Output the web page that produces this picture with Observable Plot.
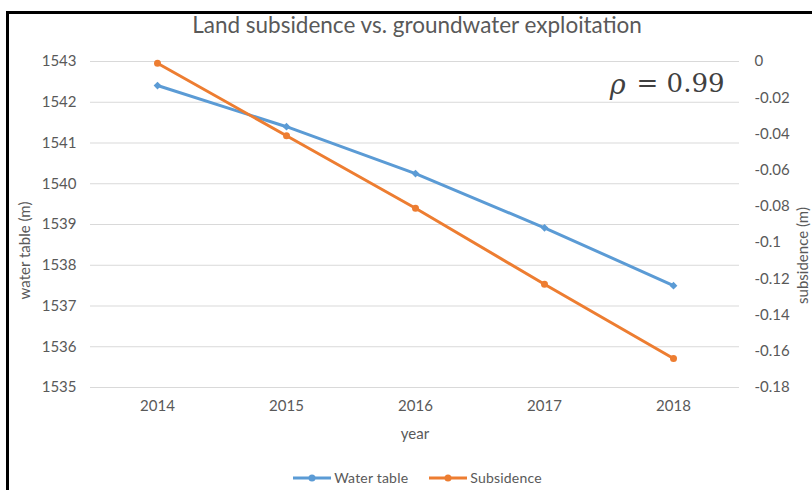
<!DOCTYPE html>
<html>
<head>
<meta charset="utf-8">
<script src="https://cdn.jsdelivr.net/npm/d3@7"></script>
<script src="https://cdn.jsdelivr.net/npm/@observablehq/plot@0.6"></script>
<style>
  html, body { margin: 0; padding: 0; background: #fff; }
  #wrap { position: relative; width: 812px; height: 490px; overflow: hidden; font-family: Lato, "Open Sans", sans-serif; }
  #border { position: absolute; left: 6px; top: 11px; right: -10px; bottom: -10px; border-left: 3px solid #000; border-top: 3px solid #000; pointer-events: none; }
  #legend { position: absolute; top: 469px; left: 0; width: 812px; display: flex; justify-content: center; gap: 20px; font-size: 14px; color: #595959; padding-left: 22px; box-sizing: border-box; letter-spacing: 0.2px; }
  #legend .item { display: flex; align-items: center; gap: 2px; }
</style>
</head>
<body>
<div id="wrap">
  <div id="chart"></div>
  <div id="legend"></div>
  <div id="border"></div>
</div>
<script>
const years = [2014, 2015, 2016, 2017, 2018];
const waterTable = [1542.41, 1541.40, 1540.25, 1538.92, 1537.50];
const subsidence = [-0.001, -0.041, -0.081, -0.123, -0.164];
const leftTicks = [1535, 1536, 1537, 1538, 1539, 1540, 1541, 1542, 1543];
const rightTicks = [0, -0.02, -0.04, -0.06, -0.08, -0.1, -0.12, -0.14, -0.16, -0.18];
const rightTickLabels = ["0", "-0.02", "-0.04", "-0.06", "-0.08", "-0.1", "-0.12", "-0.14", "-0.16", "-0.18"];
const seriesNames = ["Water table", "Subsidence"];
const colors = ["#5B9BD5", "#ED7D31"];
const titleText = "Land subsidence vs. groundwater exploitation";
const rhoSymbol = "ρ";
const rhoValue = "= 0.99";

// map subsidence (right axis: 0 .. -0.18) onto left axis (1543 .. 1535)
const leftTop = 1543, leftBottom = 1535, rightTop = 0, rightBottom = -0.18;
const toLeft = s => leftTop + (s - rightTop) * (leftTop - leftBottom) / (rightTop - rightBottom);

const wt = years.map((y, i) => ({year: y, v: waterTable[i]}));
const sb = years.map((y, i) => ({year: y, v: toLeft(subsidence[i])}));

const chart = Plot.plot({
  width: 812,
  height: 490,
  marginLeft: 90,
  marginRight: 73,
  marginTop: 61,
  marginBottom: 103,
  style: {fontFamily: "Lato, 'Open Sans', sans-serif", fontSize: "15px", color: "#595959", background: "transparent"},
  x: {type: "point", domain: years, padding: 0.5},
  y: {domain: [leftBottom, leftTop]},
  marks: [
    Plot.gridY(leftTicks, {stroke: "#d9d9d9", strokeOpacity: 1, strokeWidth: 1}),
    Plot.axisY(leftTicks, {anchor: "left", tickSize: 0, tickPadding: 14, label: null, fill: "#595959", tickFormat: d => String(d)}),
    Plot.axisY(rightTicks.map(toLeft), {anchor: "right", tickSize: 0, tickPadding: 15, label: null, fill: "#595959",
      tickFormat: (d, i) => rightTickLabels[i]}),
    Plot.axisX(years, {anchor: "bottom", tickSize: 0, tickPadding: 13, label: null, fill: "#595959", tickFormat: d => String(d)}),
    Plot.line(wt, {x: "year", y: "v", stroke: colors[0], strokeWidth: 3}),
    Plot.dot(wt, {x: "year", y: "v", fill: colors[0], r: 3.5, symbol: "diamond2"}),
    Plot.line(sb, {x: "year", y: "v", stroke: colors[1], strokeWidth: 3}),
    Plot.dot(sb, {x: "year", y: "v", fill: colors[1], r: 3.5}),
    Plot.text([titleText], {frameAnchor: "top", dx: 2, dy: -36, fontSize: 22.5, fill: "#595959", lineAnchor: "middle"}),
    Plot.text([rhoValue], {frameAnchor: "top-right", dx: -15, dy: 22, fontSize: 26, fill: "#404040", fontFamily: "'DejaVu Serif', serif", lineAnchor: "middle", textAnchor: "end"}),
    Plot.text([rhoSymbol], {frameAnchor: "top-right", dx: -114, dy: 24, fontSize: 27, fill: "#404040", fontFamily: "'DejaVu Serif', serif", fontStyle: "italic", lineAnchor: "middle", textAnchor: "end"}),
    Plot.text(["year"], {frameAnchor: "bottom", dx: 0, dy: 47, fontSize: 15, fill: "#595959", lineAnchor: "middle"}),
    Plot.text(["water table (m)"], {frameAnchor: "left", dx: -65, dy: 26, rotate: -90, fontSize: 15, fill: "#595959", lineAnchor: "middle", textAnchor: "middle"}),
    Plot.text(["subsidence (m)"], {frameAnchor: "right", dx: 64, dy: 31, rotate: -90, fontSize: 15, fill: "#595959", lineAnchor: "middle", textAnchor: "middle"})
  ]
});
document.getElementById("chart").appendChild(chart);

const legend = document.getElementById("legend");
seriesNames.forEach((name, i) => {
  const item = document.createElement("div");
  item.className = "item";
  item.innerHTML = `<svg width="40" height="10"><line x1="1" y1="5" x2="39" y2="5" stroke="${colors[i]}" stroke-width="3"/><circle cx="20" cy="5" r="3.5" fill="${colors[i]}"/></svg><span>${name}</span>`;
  legend.appendChild(item);
});
</script>
</body>
</html>
